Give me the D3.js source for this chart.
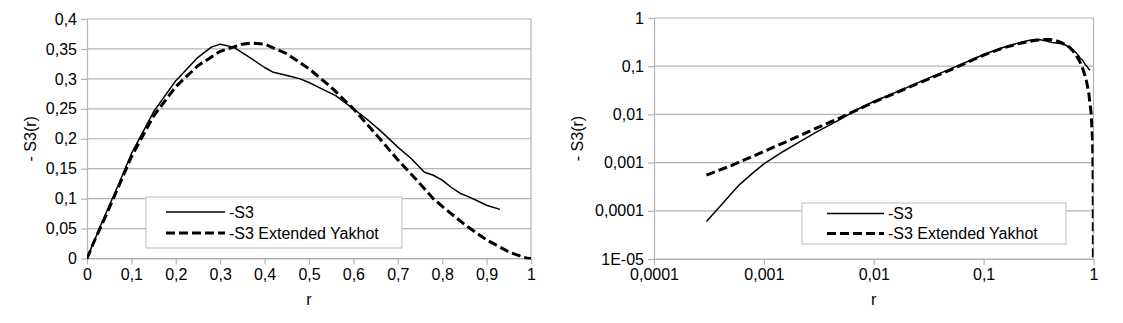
<!DOCTYPE html>
<html>
<head>
<meta charset="utf-8">
<script src="https://cdn.jsdelivr.net/npm/d3@7"></script>
<style>
  body { margin: 0; background: #fff; }
  text { font-family: "Liberation Sans", Arial, sans-serif; }
</style>
</head>
<body>
<script>
// -S3 measured (r, value)
const rS3 = [0, 0.0003, 0.0004, 0.0005, 0.0006, 0.0008, 0.001, 0.0015, 0.002, 0.003, 0.005, 0.007,
  0.01, 0.02, 0.03, 0.05, 0.07, 0.1, 0.15, 0.2, 0.25, 0.28, 0.3, 0.33, 0.36, 0.4, 0.42, 0.46, 0.48,
  0.5, 0.53, 0.56, 0.6, 0.63, 0.66, 0.7, 0.73, 0.76, 0.78, 0.8, 0.82, 0.84, 0.86, 0.88, 0.9, 0.93];
const vS3 = [0, 6.0e-5, 1.25e-4, 2.2e-4, 3.5e-4, 6.2e-4, 9.4e-4, 1.7e-3, 2.5e-3, 4.3e-3, 8.0e-3, 1.25e-2,
  1.85e-2, 3.6e-2, 5.4e-2, 8.8e-2, 0.122, 0.175, 0.245, 0.297, 0.336, 0.353, 0.358, 0.353, 0.339, 0.319, 0.311, 0.304, 0.300,
  0.294, 0.283, 0.272, 0.25, 0.233, 0.214, 0.186, 0.167, 0.144, 0.139, 0.131, 0.119, 0.109, 0.103, 0.096, 0.089, 0.082];

// -S3 Extended Yakhot (r, value)
const rYak = [0, 0.0003, 0.0005, 0.001, 0.002, 0.003, 0.005, 0.01, 0.02, 0.05, 0.1, 0.15, 0.2, 0.25,
  0.3, 0.35, 0.37, 0.4, 0.45, 0.5, 0.55, 0.6, 0.65, 0.7, 0.75, 0.78, 0.8, 0.85, 0.9, 0.95, 0.98, 0.99, 0.995, 0.999, 1];
const vYak = [0, 5.5e-4, 8.6e-4, 1.7e-3, 3.4e-3, 5.2e-3, 8.6e-3, 1.8e-2, 3.5e-2, 8.4e-2, 0.17, 0.238, 0.287, 0.322,
  0.346, 0.358, 0.36, 0.358, 0.342, 0.317, 0.286, 0.25, 0.208, 0.165, 0.125, 0.1, 0.087, 0.057, 0.031, 0.011, 0.003, 8e-4, 1.5e-4, 5e-6, 0];

const seriesNames = ["-S3", "-S3 Extended Yakhot"];
const linTicksX = [0, 0.1, 0.2, 0.3, 0.4, 0.5, 0.6, 0.7, 0.8, 0.9, 1];
const linTicksY = [0, 0.05, 0.1, 0.15, 0.2, 0.25, 0.3, 0.35, 0.4];
const logTicksX = [0.0001, 0.001, 0.01, 0.1, 1];
const logTicksY = [1e-5, 1e-4, 0.001, 0.01, 0.1, 1];

const width = 1123, height = 323;
const grid = "#b3b3b3";
const fmtComma = d => String(+d.toPrecision(6)).replace(".", ",");

const svg = d3.select("body").append("svg")
  .attr("width", width)
  .attr("height", height)
  .attr("viewBox", [0, 0, width, height]);

const s3 = rS3.map((r, i) => ({r, v: vS3[i]}));
const yak = rYak.map((r, i) => ({r, v: vYak[i]}));

function drawChart(opt) {
  const {x, y, ticksX, ticksY, fmtY, fmtX, log, titleX, legend, id} = opt;
  const [x0, x1] = x.range();
  const [y0, y1] = y.range();
  const g = svg.append("g");

  g.append("clipPath").attr("id", id)
    .append("rect").attr("x", x0).attr("y", y1 - 1).attr("width", x1 - x0).attr("height", y0 - y1 + 2);

  // horizontal gridlines
  g.selectAll(".grid").data(ticksY).join("line")
    .attr("x1", x0).attr("x2", x1)
    .attr("y1", d => y(d)).attr("y2", d => y(d))
    .attr("stroke", grid).attr("stroke-width", 1.2);

  // right border
  g.append("line").attr("x1", x1).attr("x2", x1).attr("y1", y1).attr("y2", y0)
    .attr("stroke", grid).attr("stroke-width", 1.2);

  // y axis
  const yAxis = g.append("g")
    .attr("transform", `translate(${x0},0)`)
    .call(d3.axisLeft(y).tickValues(ticksY).tickFormat(fmtY).tickSize(6).tickPadding(4).tickSizeOuter(0));
  yAxis.select(".domain").attr("stroke", grid).attr("stroke-width", 1.2);
  yAxis.selectAll(".tick line").attr("stroke", grid).attr("stroke-width", 1.2);
  yAxis.selectAll(".tick text").attr("font-size", 16).attr("fill", "#000")
    .attr("font-family", "Liberation Sans, Arial, sans-serif");

  // x axis
  const xAxis = g.append("g")
    .attr("transform", `translate(0,${y0})`)
    .call(d3.axisBottom(x).tickValues(ticksX).tickFormat(fmtX).tickSize(6).tickPadding(4).tickSizeOuter(0));
  xAxis.select(".domain").attr("stroke", grid).attr("stroke-width", 1.2);
  xAxis.selectAll(".tick line").attr("stroke", grid).attr("stroke-width", 1.2);
  xAxis.selectAll(".tick text").attr("font-size", 16).attr("fill", "#000")
    .attr("font-family", "Liberation Sans, Arial, sans-serif");

  // axis titles
  g.append("text")
    .attr("x", (x0 + x1) / 2).attr("y", 305)
    .attr("text-anchor", "middle").attr("font-size", 16)
    .text(titleX);
  g.append("text")
    .attr("transform", `translate(${opt.titleYx},${(y0 + y1) / 2}) rotate(-90)`)
    .attr("text-anchor", "middle").attr("dominant-baseline", "central")
    .attr("font-size", 16)
    .text("- S3(r)");

  const keep = d => log ? d.r > 0 && d.v > 0 : true;
  const line = d3.line().x(d => x(d.r)).y(d => y(d.v));

  const plot = g.append("g").attr("clip-path", `url(#${id})`);
  plot.append("path")
    .attr("d", line(yak.filter(keep)))
    .attr("fill", "none").attr("stroke", "#000")
    .attr("stroke-width", 3).attr("stroke-dasharray", "9,4");
  plot.append("path")
    .attr("d", line(s3.filter(keep)))
    .attr("fill", "none").attr("stroke", "#000")
    .attr("stroke-width", 1.5).attr("stroke-linejoin", "round");

  // legend
  const L = legend;
  const lg = g.append("g");
  lg.append("rect")
    .attr("x", L.x).attr("y", L.y).attr("width", L.w).attr("height", L.h)
    .attr("fill", "#fff").attr("stroke", "#c8c8c8").attr("stroke-width", 1.2);
  seriesNames.forEach((name, i) => {
    const yy = L.rowY + i * L.rowGap;
    lg.append("line")
      .attr("x1", L.lineX0).attr("x2", L.lineX1).attr("y1", yy).attr("y2", yy)
      .attr("stroke", "#000")
      .attr("stroke-width", i === 0 ? 1.5 : 3)
      .attr("stroke-dasharray", i === 0 ? null : "9,4");
    lg.append("text")
      .attr("x", L.textX).attr("y", yy)
      .attr("dominant-baseline", "central").attr("font-size", 16)
      .text(name);
  });
}

// left: linear
drawChart({
  id: "clipL",
  x: d3.scaleLinear().domain([0, 1]).range([87, 531]),
  y: d3.scaleLinear().domain([0, 0.4]).range([258.5, 19]),
  ticksX: linTicksX, ticksY: linTicksY,
  fmtX: fmtComma, fmtY: fmtComma,
  log: false, titleX: "r", titleYx: 30,
  legend: {x: 146, y: 197, w: 256, h: 51, rowY: 212, rowGap: 21, lineX0: 166, lineX1: 225, textX: 229}
});

// right: log-log
drawChart({
  id: "clipR",
  x: d3.scaleLog().domain([0.0001, 1]).range([654, 1093.5]),
  y: d3.scaleLog().domain([1e-5, 1]).range([259, 18]),
  ticksX: logTicksX, ticksY: logTicksY,
  fmtX: fmtComma,
  fmtY: d => d < 1e-4 ? "1E-05" : fmtComma(d),
  log: true, titleX: "r", titleYx: 577,
  legend: {x: 802, y: 203, w: 264, h: 41, rowY: 213.5, rowGap: 20, lineX0: 827, lineX1: 884, textX: 888}
});
</script>
</body>
</html>
